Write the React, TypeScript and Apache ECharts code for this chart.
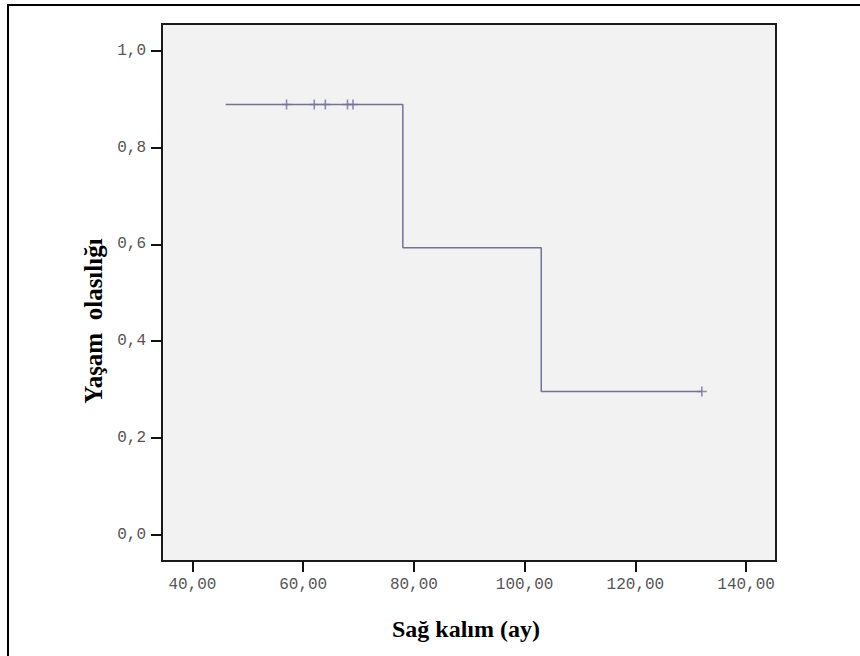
import React, { useEffect, useRef } from "react";
import * as echarts from "echarts";

// Kaplan-Meier step points (time in months, survival probability)
const stepTimes = [46, 78, 103, 132];
const stepSurvival = [0.889, 0.593, 0.296, 0.296];

// Censored observations (+ marks)
const censorTimes = [57, 62, 64, 68, 69, 132];
const censorSurvival = [0.889, 0.889, 0.889, 0.889, 0.889, 0.296];

const xTicks = [40, 60, 80, 100, 120, 140];
const yTicks = [0, 0.2, 0.4, 0.6, 0.8, 1.0];

const xTitle = "Sağ kalım (ay)";
const yTitle = "Yaşam  olasılığı";

const LINE_COLOR = "#737298";

export default function App() {
  const ref = useRef<HTMLDivElement>(null);
  useEffect(() => {
    if (!ref.current) return;
    const chart = echarts.init(ref.current, null, { renderer: "svg" });
    const stepData = stepTimes.map((t, i) => [t, stepSurvival[i]]);
    const censorData = censorTimes.map((t, i) => [t, censorSurvival[i]]);
    chart.setOption({
      animation: false,
      backgroundColor: "#ffffff",
      grid: {
        left: 162,
        top: 24,
        width: 614,
        height: 537,
        show: true,
        backgroundColor: "#f2f2f2",
        borderColor: "#1a1a1a",
        borderWidth: 2,
      },
      xAxis: {
        type: "value",
        min: 34.5,
        max: 145.4,
        axisLine: { show: false, onZero: false },
        splitLine: { show: false },
        axisTick: {
          show: true,
          customValues: xTicks,
          length: 11,
          lineStyle: { color: "#111", width: 2 },
        },
        axisLabel: {
          customValues: xTicks,
          margin: 16,
          fontFamily: "Liberation Mono",
          fontSize: 16,
          color: "#555",
          formatter: (v: number) => v.toFixed(2).replace(".", ","),
        },
      },
      yAxis: {
        type: "value",
        min: -0.0545,
        max: 1.0555,
        axisLine: { show: false, onZero: false },
        splitLine: { show: false },
        axisTick: {
          show: true,
          customValues: yTicks,
          length: 11,
          lineStyle: { color: "#111", width: 2 },
        },
        axisLabel: {
          customValues: yTicks,
          margin: 16,
          fontFamily: "Liberation Mono",
          fontSize: 16,
          color: "#555",
          formatter: (v: number) => v.toFixed(1).replace(".", ","),
        },
      },
      series: [
        {
          type: "line",
          step: "end",
          data: stepData,
          showSymbol: false,
          symbol: "none",
          lineStyle: { color: LINE_COLOR, width: 1.5 },
          z: 2,
        },
        {
          type: "scatter",
          data: censorData,
          symbol: "path://M4.2,0 H5.8 V4.2 H10 V5.8 H5.8 V10 H4.2 V5.8 H0 V4.2 H4.2 Z",
          symbolSize: [10, 10],
          itemStyle: { color: LINE_COLOR },
          z: 3,
        },
      ],
      graphic: [
        {
          type: "rect",
          shape: { x: 8, y: 5, width: 900, height: 700 },
          style: { fill: "none", stroke: "#000", lineWidth: 2 },
          silent: true,
        },
        {
          type: "text",
          x: 466,
          y: 629,
          style: {
            text: xTitle,
            fontFamily: "Liberation Serif",
            fontWeight: "bold",
            fontSize: 24,
            fill: "#000",
            align: "center",
            verticalAlign: "middle",
          },
        },
        {
          type: "text",
          x: 93,
          y: 321,
          rotation: Math.PI / 2,
          style: {
            text: yTitle,
            fontFamily: "Liberation Serif",
            fontWeight: "bold",
            fontSize: 25,
            fill: "#000",
            align: "center",
            verticalAlign: "middle",
          },
        },
      ],
    });
    return () => chart.dispose();
  }, []);
  return <div ref={ref} style={{ width: 860, height: 656, position: "absolute", left: 0, top: 0 }} />;
}
